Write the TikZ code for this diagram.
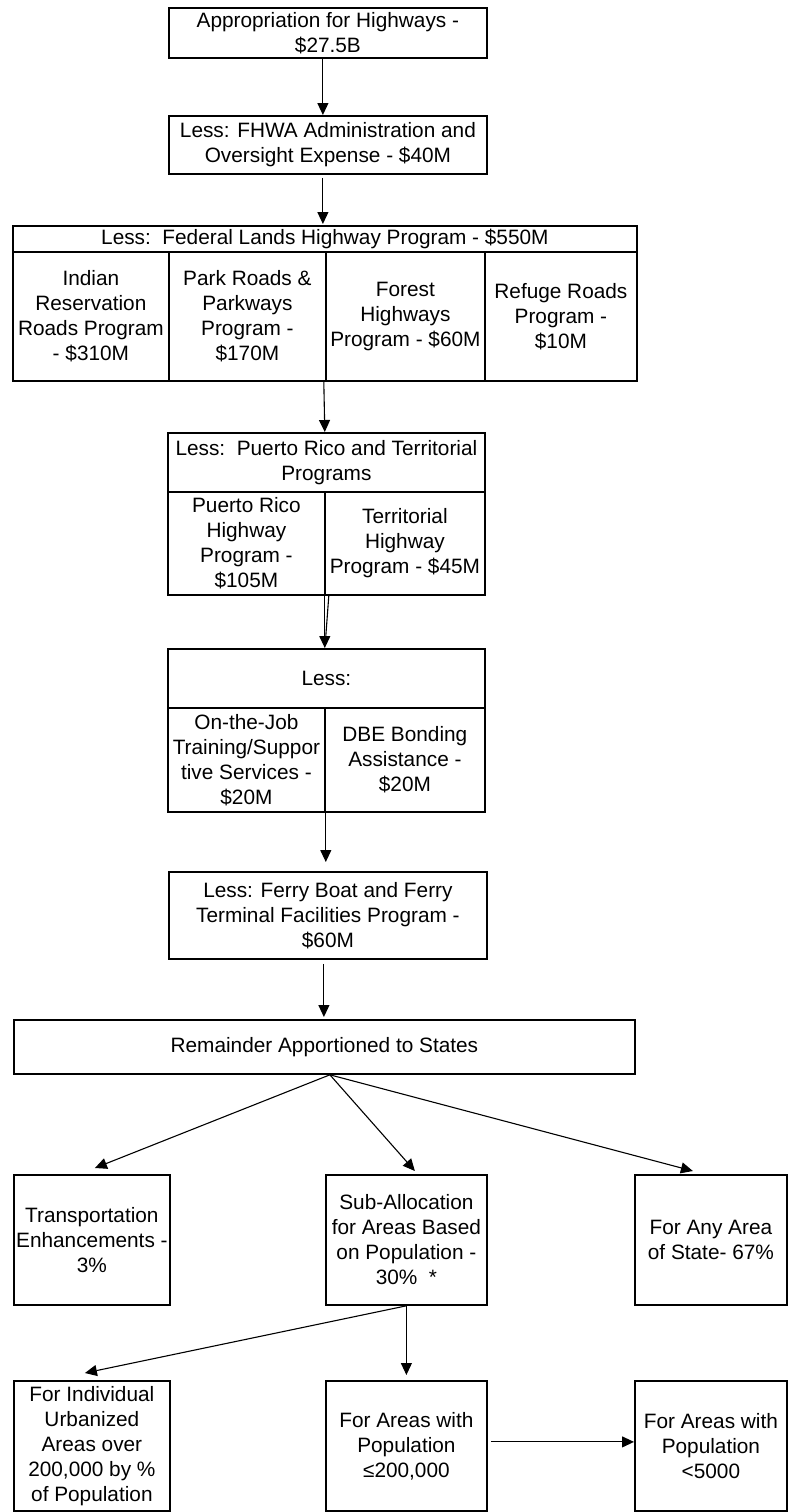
\documentclass[tikz,border=0pt]{standalone}
\usepackage{fontspec}
\setmainfont{Liberation Sans}
\usetikzlibrary{arrows.meta,calc}
\begin{document}
\begin{tikzpicture}[x=1pt,y=-1pt,
  box/.style={draw, line width=1.8pt, align=center, inner sep=0pt, anchor=north west,
    font=\fontsize{20.8}{25}\selectfont},
  arr/.style={line width=1.1pt, -{Triangle[length=12pt,width=11pt]}},
  ln/.style={line width=1.1pt}
]
\useasboundingbox (0,0) rectangle (790,1512);

\node[box, minimum width=318, minimum height=50] (b1) at (168,7) {Appropriation for Highways -\\\$27.5B};
\node[box, minimum width=318, minimum height=58] (b2) at (168,115) {Less: FHWA Administration and\\Oversight Expense - \$40M};

\node[box, minimum width=624, minimum height=26] (fedh) at (12,225) {Less:\ \ Federal Lands Highway Program - \$550M};
\node[box, minimum width=156, minimum height=129] (c1) at (12,251) {Indian\\Reservation\\Roads Program\\- \$310M};
\node[box, minimum width=157, minimum height=129] (c2) at (168,251) {Park Roads \&\\Parkways\\Program -\\\$170M};
\node[box, minimum width=159, minimum height=129] (c3) at (325,251) {Forest\\Highways\\Program - \$60M};
\node[box, minimum width=152, minimum height=129] (c4) at (484,251) {Refuge Roads\\Program -\\\$10M};

\node[box, minimum width=317, minimum height=59] (prh) at (167,432) {Less:\ \ Puerto Rico and Territorial\\Programs};
\node[box, minimum width=157, minimum height=103] (pr1) at (167,491) {Puerto Rico\\Highway\\Program -\\\$105M};
\node[box, minimum width=160, minimum height=103] (pr2) at (324,491) {Territorial\\Highway\\Program - \$45M};

\node[box, minimum width=317, minimum height=59] (lh) at (167,648) {Less:};
\node[box, minimum width=157, minimum height=104] (l1) at (167,707) {On-the-Job\\Training/Suppor\\tive Services -\\\$20M};
\node[box, minimum width=160, minimum height=104] (l2) at (324,707) {DBE Bonding\\Assistance -\\\$20M};

\node[box, minimum width=318, minimum height=87] (ferry) at (168,871) {Less: Ferry Boat and Ferry\\Terminal Facilities Program -\\\$60M};

\node[box, minimum width=621, minimum height=54] (rem) at (13,1019) {Remainder Apportioned to States};

\node[box, minimum width=156, minimum height=130] (te) at (13,1174) {Transportation\\Enhancements -\\3\%};
\node[box, minimum width=161, minimum height=130] (sub) at (325,1174) {Sub-Allocation\\for Areas Based\\on Population -\\30\%\ \ *};
\node[box, minimum width=152, minimum height=130] (any) at (634,1174) {For Any Area\\of State- 67\%};

\node[box, minimum width=156, minimum height=130] (ind) at (13,1380) {For Individual\\Urbanized\\Areas over\\200,000 by \%\\of Population};
\node[box, minimum width=161, minimum height=130] (pop) at (325,1380) {For Areas with\\Population\\≤200,000};
\node[box, minimum width=152, minimum height=130] (p5k) at (634,1380) {For Areas with\\Population\\<5000};

% connectors
\draw[arr] ($(b1.south)+(-5,0)$) -- ($(b1.south |- b2.north)+(-5,0)$);
\draw[arr] ($(b2.south)+(-5,3)$) -- ($(b2.south |- fedh.north)+(-5,-1)$);
\draw[arr] ($(c2.south east)+(-3,0)$) -- ($(c2.south east |- prh.north)+(-2,0)$);
\draw[ln] ($(pr1.south east)+(3,0)$) -- ($(pr1.south east |- lh.north)+(0,-12)$);
\draw[arr] ($(pr1.south east)+(-1,0)$) -- ($(pr1.south east |- lh.north)+(-1,0)$);
\draw[arr] (l1.south east) -- ($(l1.south east |- ferry.north)+(0,-9)$);
\draw[arr] ($(ferry.south)+(-4,4)$) -- ($(ferry.south |- rem.north)+(-4,-2)$);

\draw[arr] ($(rem.south)+(5.5,0)$) -- ($(te.north)+(3,-6)$);
\draw[arr] ($(rem.south)+(5.5,0)$) -- ($(sub.north)+(8.5,-3)$);
\draw[arr] ($(rem.south)+(5.5,0)$) -- ($(any.north)+(-18,-3)$);

\draw[arr] (sub.south) -- ($(ind.north)+(-7,-7)$);
\draw[arr] (sub.south) -- ($(pop.north)+(0,-5)$);
\draw[arr] ($(pop.east)+(3,-4)$) -- ($(p5k.west)+(0,-4)$);
\end{tikzpicture}
\end{document}
